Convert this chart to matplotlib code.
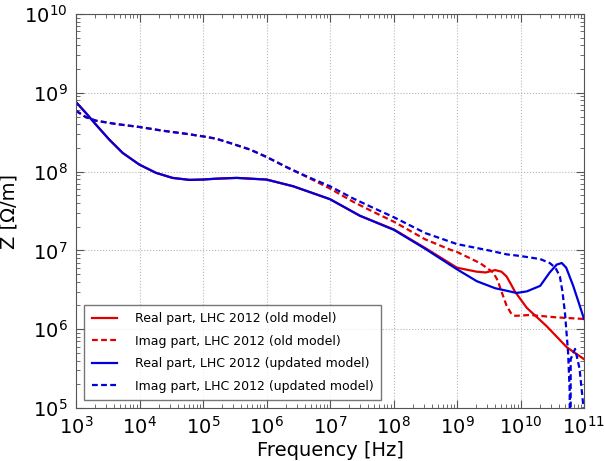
import numpy as np
import matplotlib
matplotlib.use("Agg")
import matplotlib.pyplot as plt
from matplotlib.ticker import LogLocator, FixedLocator

# log10(frequency [Hz]) and log10(|Z| [Ohm/m])
lf_real_new = [3.0, 3.157, 3.315, 3.525, 3.735, 3.997, 4.26, 4.52, 4.785, 4.995, 5.205, 5.53,
               6.0, 6.42, 7.0, 7.47, 8.008, 8.5, 9.0, 9.31, 9.6, 9.94, 10.1, 10.31, 10.46,
               10.57, 10.65, 10.72, 10.83, 10.92, 11.0]
lz_real_new = [8.882, 8.743, 8.595, 8.405, 8.237, 8.089, 7.984, 7.92, 7.895, 7.899, 7.91, 7.92,
               7.899, 7.814, 7.65, 7.44, 7.26, 7.02, 6.76, 6.61, 6.52, 6.46, 6.48, 6.55, 6.72,
               6.82, 6.84, 6.78, 6.55, 6.33, 6.13]

lf_real_old = [3.0, 3.157, 3.315, 3.525, 3.735, 3.997, 4.26, 4.52, 4.785, 4.995, 5.205, 5.53,
               6.0, 6.42, 7.0, 7.47, 8.008, 8.5, 9.0, 9.31, 9.45, 9.6, 9.7, 9.78, 9.85, 9.91,
               10.1, 10.41, 10.73, 11.0]
lz_real_old = [8.882, 8.743, 8.595, 8.405, 8.237, 8.089, 7.984, 7.92, 7.895, 7.899, 7.91, 7.92,
               7.899, 7.814, 7.65, 7.44, 7.265, 7.03, 6.78, 6.73, 6.72, 6.75, 6.73, 6.67, 6.57, 6.48,
               6.27, 6.04, 5.77, 5.62]

lf_imag_new = [3.0, 3.157, 3.315, 3.63, 4.0, 4.365, 4.73, 5.0, 5.205, 5.425, 5.74, 6.0, 6.32,
               6.63, 7.0, 7.367, 7.68, 8.008, 8.5, 9.0, 9.5, 9.78, 9.99, 10.31, 10.46, 10.55,
               10.62, 10.66, 10.70, 10.75, 10.775, 10.785, 10.79, 10.86, 10.93, 10.99, 11.0]
lz_imag_new = [8.772, 8.69, 8.646, 8.604, 8.566, 8.519, 8.48, 8.447, 8.418, 8.363, 8.28, 8.186, 8.055,
               7.94, 7.814, 7.658, 7.54, 7.42, 7.22, 7.08, 7.00, 6.95, 6.93, 6.89, 6.84, 6.78,
               6.67, 6.48, 6.21, 5.70, 5.2, None, 5.62, 5.75, 5.5, 5.02, None]

lf_imag_old = [3.0, 3.157, 3.315, 3.63, 4.0, 4.365, 4.73, 5.0, 5.205, 5.425, 5.74, 6.0, 6.32,
               6.63, 7.0, 7.367, 7.68, 8.008, 8.5, 8.89, 9.0, 9.36, 9.57, 9.64, 9.70, 9.78,
               9.86, 9.92, 10.15, 10.57, 11.0]
lz_imag_old = [8.772, 8.69, 8.646, 8.604, 8.566, 8.519, 8.48, 8.447, 8.418, 8.363, 8.28, 8.186, 8.055,
               7.935, 7.785, 7.616, 7.49, 7.363, 7.14, 7.01, 6.98, 6.84, 6.72, 6.62, 6.48, 6.30,
               6.19, 6.17, 6.18, 6.15, 6.13]

x_ticks = [1e3, 1e4, 1e5, 1e6, 1e7, 1e8, 1e9, 1e10, 1e11]
y_ticks = [1e5, 1e6, 1e7, 1e8, 1e9, 1e10]

labels = ["Real part, LHC 2012 (old model)", "Imag part, LHC 2012 (old model)",
          "Real part, LHC 2012 (updated model)", "Imag part, LHC 2012 (updated model)"]


def to_lin(lf, lz):
    f = np.power(10.0, np.array(lf, dtype=float))
    # None marks a negative (sign-changed) sample; log axis clips it to the bottom
    z = np.array([10.0 ** v if v is not None else -1.0 for v in lz])
    return f, z


plt.rcParams['font.family'] = ['DejaVu Sans']
plt.rcParams['mathtext.fontset'] = 'dejavusans'

fig = plt.figure(figsize=(6.05, 4.61), dpi=100)
ax = fig.add_axes([76/605, 1-408/461, (584-76)/605, (408-14)/461])

lw = 1.6
dash = (2.6, 1.5)
ax.plot(*to_lin(lf_real_old, lz_real_old), color='#e00000', lw=lw, label=labels[0])
ax.plot(*to_lin(lf_imag_old, lz_imag_old), color='#e00000', lw=lw, dashes=dash, label=labels[1])
ax.plot(*to_lin(lf_real_new, lz_real_new), color='#0000dd', lw=lw, label=labels[2])
ax.plot(*to_lin(lf_imag_new, lz_imag_new), color='#0000dd', lw=lw, dashes=dash, label=labels[3])

ax.set_xscale('log', nonpositive='clip')
ax.set_yscale('log', nonpositive='clip')
ax.set_xlim(1e3, 1e11)
ax.set_ylim(1e5, 1e10)
ax.xaxis.set_major_locator(FixedLocator(x_ticks))
ax.yaxis.set_major_locator(FixedLocator(y_ticks))
ax.xaxis.set_minor_locator(LogLocator(base=10, subs=np.arange(2, 10), numticks=20))

ax.grid(True, which='major', color='#b8b8b8', linestyle=':', linewidth=0.8)
for s in ax.spines.values():
    s.set_color('#555555')
ax.tick_params(which='both', direction='in', top=True, right=True, colors='#555555', labelcolor='black')
ax.tick_params(which='major', length=6, labelsize=14, pad=6)
ax.tick_params(which='minor', length=3)

ax.set_xlabel("Frequency [Hz]", fontsize=14, labelpad=2)
ax.set_ylabel("Z [Ω/m]", fontsize=14)
ax.yaxis.set_label_coords(-0.114, 0.5)

leg = ax.legend(loc='lower left', bbox_to_anchor=(8/508, 8/394), borderaxespad=0, fontsize=9,
                frameon=True, fancybox=False, handlelength=2.0, handletextpad=1.45,
                borderpad=0.6, labelspacing=0.75)
leg.get_frame().set_edgecolor('#555555')
leg.get_frame().set_linewidth(1.0)

fig.savefig("out.png", dpi=100, facecolor='white')
